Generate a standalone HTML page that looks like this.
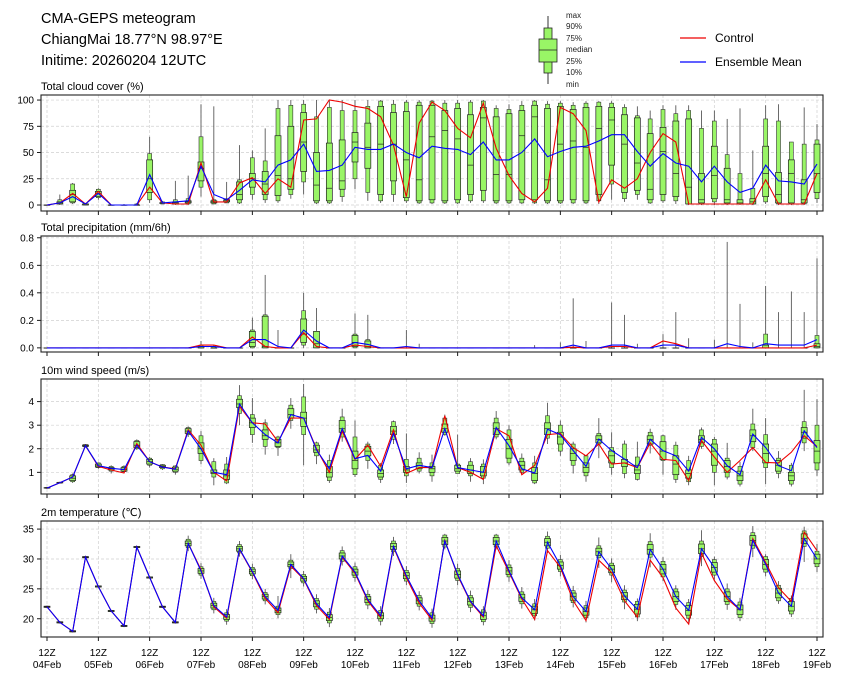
<!DOCTYPE html>
<html><head><meta charset="utf-8"><style>
html,body{margin:0;padding:0;background:#fff}
svg{display:block;font-family:"Liberation Sans","DejaVu Sans",sans-serif}
</style></head><body>
<svg id="chart" width="845" height="681" viewBox="0 0 845 681" xmlns="http://www.w3.org/2000/svg">
<g font-size="14.5" fill="#000">
<text x="41" y="23">CMA-GEPS meteogram</text>
<text x="41" y="44">ChiangMai 18.77°N 98.97°E</text>
<text x="41" y="65">Initime: 20260204 12UTC</text>
</g>
<g>
<line x1="548" y1="16" x2="548" y2="84" stroke="#333" stroke-width="1"/>
<rect x="544" y="28" width="8" height="45" fill="#99f566" stroke="#222" stroke-width="0.8"/>
<rect x="539" y="39" width="18" height="23" fill="#99f566" stroke="#222" stroke-width="0.8"/>
<line x1="539" y1="50" x2="557" y2="50" stroke="#222" stroke-width="0.8"/>
<g font-size="8" fill="#222">
<text x="566" y="18">max</text><text x="566" y="29">90%</text><text x="566" y="41">75%</text><text x="566" y="52">median</text><text x="566" y="64">25%</text><text x="566" y="75">10%</text><text x="566" y="87">min</text>
</g>
</g>
<g>
<line x1="680" y1="38" x2="706" y2="38" stroke="#e00" stroke-width="1.2"/>
<text x="715" y="42" font-size="12">Control</text>
<line x1="680" y1="62" x2="706" y2="62" stroke="#00f" stroke-width="1.2"/>
<text x="715" y="66" font-size="12">Ensemble Mean</text>
</g>
<g id="panels"></g>
</svg>
<script>
// ---- time axis ----
const dayLabels = ["04Feb","05Feb","06Feb","07Feb","08Feb","09Feb","10Feb","11Feb","12Feb","13Feb","14Feb","15Feb","16Feb","17Feb","18Feb","19Feb"];
const nSteps = 61;

// ---- cloud cover (%) ----
const cMin =[0,0,1,0,5,0,0,0,2,1, 0,0,8,1,2,1,5,2,2,6, 10,1,1,3,15,4,2,3,2,1, 1,1,1,2,2,1,1,1,1,1, 1,1,1,1,5,3,5,1,2,1, 0,0,0,0,0,0,1,0,0,0, 2];
const cP10 =[0,1,2,0,7,0,0,0,5,1, 1,1,17,1,2,2,10,5,4,10, 22,2,2,8,25,12,4,10,4,2, 2,2,2,4,4,2,2,2,2,2, 2,2,2,4,20,6,10,2,4,4, 1,1,3,1,1,1,3,1,1,1, 6];
const cP25 =[0,1,3,0,8,0,0,0,12,2, 1,2,23,2,3,5,17,10,9,15, 32,4,4,15,41,35,10,23,7,4, 5,4,5,10,14,4,4,5,5,4, 4,5,4,10,38,12,14,5,10,8, 1,2,6,2,1,1,8,2,2,2, 12];
const cMed =[0,2,10,1,11,0,0,0,25,2, 2,3,35,3,4,10,25,20,28,25, 60,19,16,23,60,55,58,58,43,24, 65,71,63,38,83,29,29,66,84,24, 58,61,55,73,81,58,40,15,51,30, 17,5,28,5,2,3,30,10,30,5, 30];
const cP75 =[0,3,14,1,13,0,0,0,43,2, 3,4,41,4,5,22,30,32,66,75, 88,50,59,62,69,78,94,88,89,95, 95,90,92,86,93,84,87,90,95,92, 94,91,93,94,93,86,83,68,74,80, 82,30,56,35,5,6,56,31,43,24, 58];
const cP90 =[0,5,20,1,15,0,0,1,49,3, 5,6,65,5,6,24,45,42,92,95, 96,84,93,90,90,94,99,96,98,98, 99,97,97,98,99,92,91,95,99,96, 97,95,97,98,97,93,85,82,91,87, 90,73,80,48,30,16,82,80,60,58, 62];
const cMax =[0,10,21,2,16,0,1,2,65,4, 23,28,96,94,22,57,52,73,100,100, 100,100,100,100,100,100,100,100,100,100, 100,100,100,100,100,95,96,99,100,99, 99,98,99,99,99,96,94,90,95,95, 95,90,90,82,92,52,95,96,60,93, 77];
const cMean=[0,2,8,1,11,0,0,0,29,2, 3,4,37,10,5,14,24,22,38,43, 58,32,33,38,55,53,53,58,50,45, 56,54,53,48,60,43,43,50,63,46, 51,55,56,61,67,67,51,37,49,40, 37,22,37,22,12,16,38,23,22,20, 39];
const cCtrl=[0,2,11,1,13,0,0,0,17,2, 1,1,40,3,3,21,26,11,25,17, 81,82,100,98,94,92,84,57,8,78, 98,90,73,64,97,54,28,11,3,16, 93,87,71,3,24,16,25,50,68,60, 1,1,1,1,1,1,24,1,1,1, 30];
const cTicks=[0,25,50,75,100];

// ---- precipitation (mm/6h) ----
const pMin =[0,0,0,0,0,0,0,0,0,0, 0,0,0,0,0,0,0,0,0,0, 0,0,0,0,0,0,0,0,0,0, 0,0,0,0,0,0,0,0,0,0, 0,0,0,0,0,0,0,0,0,0, 0,0,0,0,0,0,0,0,0,0, 0];
const pP10 =[0,0,0,0,0,0,0,0,0,0, 0,0,0,0,0,0,0,0,0,0, .02,0,0,0,0,0,0,0,0,0, 0,0,0,0,0,0,0,0,0,0, 0,0,0,0,0,0,0,0,0,0, 0,0,0,0,0,0,0,0,0,0, 0];
const pP25 =[0,0,0,0,0,0,0,0,0,0, 0,0,0,0,0,0,.01,0,0,0, .04,0,0,0,.01,0,0,0,0,0, 0,0,0,0,0,0,0,0,0,0, 0,0,0,0,0,0,0,0,0,0, 0,0,0,0,0,0,0,0,0,0, 0];
const pMed =[0,0,0,0,0,0,0,0,0,0, 0,0,0,0,0,0,.04,.01,0,0, .10,.03,0,0,.04,.01,0,0,0,0, 0,0,0,0,0,0,0,0,0,0, 0,0,0,0,0,0,0,0,0,0, 0,0,0,0,0,0,0,0,0,0, .01];
const pP75 =[0,0,0,0,0,0,0,0,0,0, 0,0,.01,0,0,0,.12,.23,0,0, .21,.12,0,0,.09,.05,0,0,0,0, 0,0,0,0,0,0,0,0,0,0, 0,0,0,0,0,0,0,0,0,0, 0,0,0,0,0,0,.02,0,0,0, .03];
const pP90 =[0,0,0,0,0,0,0,0,0,0, 0,0,.02,.01,0,0,.13,.24,0,0, .27,.12,0,0,.10,.06,0,0,0,0, 0,0,0,0,0,0,0,0,0,0, 0,0,0,0,0,0,0,0,0,0, 0,0,0,0,0,0,.10,0,0,0, .09];
const pMax =[0,0,0,0,0,0,0,0,0,0, 0,0,.05,.02,0,0,.22,.53,.13,0, .40,.29,0,0,.25,.24,0,0,.13,.03, 0,0,0,0,0,0,0,0,.02,0, .04,.36,.05,0,.33,.24,.03,0,.10,.26, .07,0,.06,.77,.32,.04,.45,.26,.41,.26, .65];
const pMean=[0,0,0,0,0,0,0,0,0,0, 0,0,.01,.01,0,0,.06,.06,.01,0, .13,.05,0,0,.04,.025,0,0,.01,0, 0,0,0,0,0,0,0,0,0,0, 0,.02,0,0,.02,.02,0,0,.02,.02, 0,0,0,.03,.01,0,.03,.02,.02,.02, .06];
const pCtrl=[0,0,0,0,0,0,0,0,0,0, 0,0,.02,.02,0,0,.08,.01,0,0, .11,.01,0,0,.02,.01,0,0,0,0, 0,0,0,0,0,0,0,0,0,0, 0,.005,0,0,.01,.01,0,0,.05,.03, 0,0,0,0,0,0,0,0,0,0, .02];
const pTicks=[0,0.2,0.4,0.6,0.8];

// ---- 10m wind (m/s) ----
const wMin =[0.3,0.52,0.55,2.05,1.15,0.95,1.0,1.95,1.2,1.1, 0.9,2.5,1.35,0.45,0.5,3.0,2.25,1.75,1.7,2.85, 1.3,1.35,0.55,2.3,0.8,1.15,0.55,2.2,0.55,0.95, 0.6,2.55,0.95,0.6,0.5,2.4,1.3,0.9,0.5,2.2, 1.7,0.95,0.6,1.6,0.9,0.75,0.65,1.8,0.9,0.55, 0.45,2.0,0.45,0.7,0.4,1.9,0.5,0.75,0.4,1.9, 0.85];
const wP10 =[0.32,0.54,0.6,2.08,1.2,1.05,1.03,2.0,1.3,1.15, 1.0,2.6,1.5,0.8,0.55,3.5,2.6,2.1,2.05,3.2, 2.6,1.7,0.65,2.5,0.9,1.5,0.7,2.4,0.85,1.05, 0.85,2.6,0.95,0.85,0.75,2.5,1.4,1.0,0.55,2.45, 1.9,1.3,0.85,2.2,1.2,0.95,0.7,2.15,1.5,0.7, 0.6,2.1,1.0,0.8,0.5,2.05,1.2,0.95,0.5,2.25, 1.1];
const wP25 =[0.33,0.55,0.65,2.1,1.22,1.1,1.05,2.05,1.35,1.2, 1.05,2.65,1.8,0.95,0.7,3.75,2.9,2.4,2.1,3.3, 2.95,1.85,0.8,2.7,1.15,1.7,0.8,2.6,1.0,1.15, 1.0,2.7,1.05,0.95,0.85,2.6,1.6,1.1,0.65,2.6, 2.2,1.5,1.0,2.25,1.4,1.25,0.95,2.2,1.55,0.9, 0.75,2.25,1.3,1.0,0.65,2.3,1.4,1.05,0.65,2.45, 1.4];
const wMed =[0.34,0.56,0.75,2.13,1.27,1.15,1.12,2.15,1.45,1.25, 1.13,2.75,2.0,1.0,0.85,3.9,3.1,2.55,2.25,3.45, 3.3,1.95,1.0,2.85,1.5,1.9,0.95,2.75,1.1,1.3, 1.15,2.85,1.15,1.1,1.0,2.85,2.0,1.3,0.95,2.85, 2.5,1.8,1.2,2.4,1.7,1.4,1.1,2.4,1.9,1.35, 0.95,2.4,1.9,1.25,0.85,2.55,1.8,1.3,0.85,2.7, 1.9];
const wP75 =[0.35,0.57,0.85,2.16,1.35,1.2,1.2,2.3,1.55,1.3, 1.22,2.85,2.25,1.1,1.1,4.1,3.3,2.8,2.4,3.7, 3.55,2.15,1.25,3.2,1.9,2.1,1.1,2.95,1.25,1.4, 1.25,3.05,1.3,1.3,1.25,3.1,2.4,1.45,1.2,3.1, 2.7,2.0,1.4,2.55,1.9,1.55,1.3,2.55,2.3,1.7, 1.1,2.55,2.2,1.5,1.05,2.8,2.2,1.5,1.0,2.9, 2.35];
const wP90 =[0.36,0.58,0.9,2.18,1.4,1.25,1.25,2.35,1.6,1.33, 1.27,2.9,2.55,1.45,1.35,4.25,3.45,3.1,2.5,3.85, 4.2,2.25,1.5,3.35,2.5,2.2,1.3,3.15,1.55,1.6, 1.4,3.3,1.35,1.45,1.35,3.3,2.8,1.6,1.4,3.4, 3.0,2.2,1.7,2.65,2.05,2.2,1.65,2.7,2.55,2.15, 1.5,2.8,2.4,1.6,1.25,3.05,2.6,1.6,1.3,3.15, 3.0];
const wMax =[0.37,0.6,0.95,2.2,1.42,1.3,1.3,2.4,1.65,1.35, 1.3,2.95,2.75,1.6,1.65,4.7,4.15,3.25,2.55,4.15, 4.75,2.3,1.75,3.7,3.2,2.3,1.4,3.2,2.65,1.85, 1.75,3.45,2.6,1.6,1.55,3.6,3.0,1.8,1.7,3.95, 3.2,2.3,1.7,3.3,2.7,2.35,2.3,2.85,2.6,2.3, 1.7,2.9,2.5,2.25,1.45,3.7,3.3,1.9,1.4,4.5, 4.1];
const wMean=[0.33,0.56,0.8,2.13,1.28,1.17,1.12,2.15,1.45,1.22, 1.13,2.75,2.0,1.0,0.9,3.9,3.1,2.6,2.25,3.45, 3.3,1.95,1.15,2.85,1.58,1.72,1.05,2.65,1.15,1.3, 1.2,2.85,1.2,1.1,1.0,2.9,2.13,1.15,0.97,2.83, 2.6,1.92,1.25,2.41,1.92,1.56,1.2,2.4,1.92,1.7, 1.05,2.48,2.0,1.28,0.9,2.62,2.05,1.28,1.07,2.76, 2.05];
const wCtrl=[0.33,0.56,0.8,2.13,1.25,1.1,0.97,2.22,1.45,1.22, 1.15,2.8,2.15,1.0,0.63,3.8,3.1,3.05,2.3,3.3, 3.3,2.0,1.0,2.75,1.55,2.15,1.25,2.8,0.95,1.2, 1.2,3.4,1.2,1.0,0.7,2.85,2.55,0.9,1.3,2.6, 2.65,2.05,1.7,2.2,1.35,1.4,1.2,2.25,1.55,1.5, 0.65,2.35,1.65,1.0,1.5,2.05,1.42,1.4,1.85,2.55, 2.1];
const wTicks=[1,2,3,4];

// ---- 2m temperature (C) ----
const tMin =[21.8,19.2,17.7,30.1,25.2,21.1,18.6,31.8,26.7,21.8, 19.2,31.3,26.7,20.9,19.0,30.4,26.6,22.4,20.1,26.8, 25.4,20.9,18.6,28.9,26.2,21.6,18.9,30.5,25.6,21.4, 18.5,31.6,25.6,21.1,18.9,31.6,26.2,21.7,19.7,31.0, 27.1,21.9,19.4,28.5,26.1,21.6,19.6,28.6,26.3,21.5, 19.3,28.8,26.3,21.5,19.6,30.3,27.1,22.5,20.3,29.5, 27.8];
const tP10 =[21.9,19.3,17.8,30.2,25.3,21.2,18.7,31.9,26.8,21.9, 19.3,31.9,27.3,21.5,19.6,31.0,27.2,23.0,20.7,28.4, 26.0,21.6,19.3,29.6,26.9,22.3,19.6,31.2,26.3,22.1, 19.2,32.0,26.4,21.9,19.5,32.0,27.0,22.5,20.5,31.8, 27.9,22.7,20.2,30.2,27.3,22.8,20.3,30.3,27.0,22.4, 20.1,30.4,27.3,22.4,20.2,31.8,27.8,23.0,20.8,32.1, 28.7];
const tP25 =[21.9,19.3,17.8,30.2,25.3,21.2,18.7,31.9,26.8,21.9, 19.3,32.2,27.6,21.8,19.9,31.3,27.5,23.3,21.0,28.7, 26.3,22.0,19.7,30.0,27.3,22.7,20.0,31.6,26.7,22.5, 19.6,32.4,26.8,22.3,19.9,32.4,27.4,22.9,20.9,32.2, 28.3,23.1,20.6,30.6,27.7,23.2,20.8,30.8,27.5,22.9, 20.6,30.9,27.8,22.9,20.7,32.3,28.3,23.5,21.3,32.6, 29.2];
const tMed =[22.0,19.4,17.9,30.3,25.4,21.3,18.8,32.0,26.9,22.0, 19.4,32.6,28.0,22.2,20.3,31.7,27.9,23.7,21.4,29.1, 26.7,22.5,20.2,30.5,27.8,23.2,20.5,32.1,27.2,23.0, 20.1,33.0,27.4,22.9,20.5,33.0,28.0,23.5,21.5,32.8, 28.9,23.7,21.2,31.2,28.3,23.8,21.6,31.6,28.3,23.7, 21.4,31.7,28.6,23.7,21.5,33.1,29.1,24.3,22.1,33.4, 30.0];
const tP75 =[22.1,19.5,18.0,30.4,25.5,21.4,18.9,32.1,27.0,22.1, 19.5,33.0,28.4,22.6,20.7,32.1,28.3,24.1,21.8,29.5, 27.1,23.0,20.7,31.0,28.3,23.7,21.0,32.6,27.7,23.5, 20.6,33.6,28.0,23.5,21.1,33.6,28.6,24.1,22.1,33.4, 29.5,24.3,21.8,31.8,28.9,24.4,22.4,32.4,29.1,24.5, 22.2,32.5,29.4,24.5,22.3,33.9,29.9,25.1,22.9,34.2, 30.8];
const tP90 =[22.1,19.5,18.0,30.4,25.5,21.4,18.9,32.1,27.0,22.1, 19.5,33.3,28.7,22.9,21.0,32.4,28.6,24.4,22.1,29.8, 27.4,23.4,21.1,31.4,28.7,24.1,21.4,33.0,28.1,23.9, 21.0,34.0,28.4,23.9,21.5,34.0,29.0,24.5,22.5,33.8, 29.9,24.7,22.2,32.2,29.3,24.8,22.9,32.9,29.6,25.0, 22.7,33.0,29.9,25.0,22.8,34.4,30.4,25.6,23.4,34.7, 31.3];
const tMax =[22.2,19.6,18.1,30.5,25.6,21.5,19.0,32.2,27.1,22.2, 19.6,33.9,29.3,23.5,21.6,33.0,29.2,25.0,23.8,30.8, 28.0,24.1,21.8,32.1,29.4,24.8,22.1,33.7,28.8,24.6, 21.7,34.2,29.2,24.7,22.1,34.2,29.8,25.3,23.3,34.6, 30.7,25.5,23.0,33.6,30.1,25.6,23.4,34.3,30.3,25.6, 23.3,34.8,30.4,25.9,23.5,35.5,30.8,26.3,23.9,35.4, 32.5];
const tMean=[22.0,19.4,17.9,30.3,25.4,21.3,18.8,32.0,26.9,22.0, 19.4,32.6,28.0,22.2,20.3,31.7,27.9,23.7,21.4,29.1, 26.7,22.5,20.2,30.5,27.8,23.2,20.5,32.1,27.2,23.0, 20.1,33.0,27.4,22.9,20.5,33.0,28.0,23.5,21.5,32.8, 28.9,23.7,21.2,31.2,28.3,23.8,21.6,31.6,28.3,23.7, 21.4,31.7,28.6,23.7,21.5,33.1,29.1,24.3,22.1,33.4, 30.0];
const tCtrl=[22.0,19.4,17.9,30.3,25.4,21.3,18.8,32.0,26.9,22.0, 19.4,32.6,28.2,22.0,20.1,31.6,27.8,23.4,21.0,28.8, 26.6,22.2,19.9,30.3,27.6,23.0,20.2,32.0,26.9,22.6, 19.8,33.1,27.2,22.8,20.3,32.2,27.8,23.3,19.9,31.4, 28.6,23.0,19.7,29.8,27.7,23.0,20.3,29.8,26.9,21.8, 19.1,31.0,26.4,23.3,21.5,33.4,29.4,25.2,22.9,34.5, 31.4];
const tTicks=[20,25,30,35];

// ---- layout ----
const X0 = 47, X1 = 817, LEFT = 41, RIGHT = 823;
function xAt(i){ return X0 + i*(X1-X0)/(nSteps-1); }
const NS = "http://www.w3.org/2000/svg";
const root = document.getElementById('panels');
function mk(tag, attrs, parent){
  const e = document.createElementNS(NS, tag);
  for (const k in attrs) e.setAttribute(k, attrs[k]);
  (parent||root).appendChild(e);
  return e;
}

const panels = [
  {key:'cloud', title:'Total cloud cover (%)', top:95, bot:211, ymin:-5.7, ymax:104.8, ticks:cTicks, fmt:v=>String(v),
   mn:cMin,p10:cP10,p25:cP25,md:cMed,p75:cP75,p90:cP90,mx:cMax,mean:cMean,ctrl:cCtrl},
  {key:'precip', title:'Total precipitation (mm/6h)', top:236, bot:352, ymin:-0.03, ymax:0.813, ticks:pTicks, fmt:v=>v.toFixed(1),
   mn:pMin,p10:pP10,p25:pP25,md:pMed,p75:pP75,p90:pP90,mx:pMax,mean:pMean,ctrl:pCtrl},
  {key:'wind', title:'10m wind speed (m/s)', top:379, bot:494, ymin:0.08, ymax:4.96, ticks:wTicks, fmt:v=>String(v),
   mn:wMin,p10:wP10,p25:wP25,md:wMed,p75:wP75,p90:wP90,mx:wMax,mean:wMean,ctrl:wCtrl},
  {key:'temp', title:'2m temperature (\u2103)', top:521, bot:637, ymin:16.95, ymax:36.35, ticks:tTicks, fmt:v=>String(v),
   mn:tMin,p10:tP10,p25:tP25,md:tMed,p75:tP75,p90:tP90,mx:tMax,mean:tMean,ctrl:tCtrl}
];

panels.forEach((P, pi) => {
  const g = mk('g', {});
  
  
  const y = v => P.bot - (v - P.ymin)/(P.ymax - P.ymin)*(P.bot - P.top);

  const t = mk('text', {x:LEFT, y:P.top-5, 'font-size':'11', fill:'#000'}, g);
  t.textContent = P.title;
  
  

  // grid
  for (let d = 0; d < dayLabels.length; d++) {
    const gx = xAt(d*4);
    const gl = mk('line', {x1:gx, x2:gx, y1:P.top, y2:P.bot, stroke:'#d0d0d0', 'stroke-width':'0.7', 'stroke-dasharray':'3,2'}, g);
    
    
    mk('line', {x1:gx, x2:gx, y1:P.bot, y2:P.bot+4, stroke:'#000', 'stroke-width':'0.9'}, g);
  }
  P.ticks.forEach(v => {
    const ty = y(v);
    const gl = mk('line', {x1:LEFT, x2:RIGHT, y1:ty, y2:ty, stroke:'#d0d0d0', 'stroke-width':'0.7', 'stroke-dasharray':'3,2'}, g);
    
    
    mk('line', {x1:LEFT-4, x2:LEFT, y1:ty, y2:ty, stroke:'#000', 'stroke-width':'0.9'}, g);
    const lab = mk('text', {x:LEFT-7, y:ty+3.5, 'font-size':'10', 'text-anchor':'end', fill:'#000'}, g);
    lab.textContent = P.fmt(v);
    
    
  });

  // boxes
  for (let i = 0; i < nSteps; i++) {
    const cx = xAt(i);
    const bg = mk('g', {}, g);
    
    
    mk('line', {x1:cx, x2:cx, y1:y(P.mn[i]), y2:y(P.mx[i]), stroke:'#444', 'stroke-width':'0.8'}, bg);
    const a = y(P.p90[i]), b = y(P.p10[i]);
    mk('rect', {x:cx-2, y:a, width:4, height:Math.max(0.3, b-a), fill:'#99f566', stroke:'#333', 'stroke-width':'0.6'}, bg);
    const c = y(P.p75[i]), d = y(P.p25[i]);
    mk('rect', {x:cx-3, y:c, width:6, height:Math.max(0.3, d-c), fill:'#99f566', stroke:'#222', 'stroke-width':'0.7'}, bg);
    mk('line', {x1:cx-3, x2:cx+3, y1:y(P.md[i]), y2:y(P.md[i]), stroke:'#222', 'stroke-width':'0.7'}, bg);
  }

  // lines
  const ptsC = P.ctrl.map((v,i) => xAt(i).toFixed(1)+','+y(v).toFixed(1)).join(' ');
  const lc = mk('polyline', {points:ptsC, fill:'none', stroke:'#e00', 'stroke-width':'1.1'}, g);
  
  
  const ptsM = P.mean.map((v,i) => xAt(i).toFixed(1)+','+y(v).toFixed(1)).join(' ');
  const lm = mk('polyline', {points:ptsM, fill:'none', stroke:'#00f', 'stroke-width':'1.1'}, g);
  
  

  // frame
  const fr = mk('rect', {x:LEFT, y:P.top, width:RIGHT-LEFT, height:P.bot-P.top, fill:'none', stroke:'#222', 'stroke-width':'1.1'}, g);
  
  

  // x labels only on last panel
  if (pi === panels.length-1) {
    dayLabels.forEach((dl, d) => {
      const gx = xAt(d*4);
      const l1 = mk('text', {x:gx, y:P.bot+19, 'font-size':'10', 'text-anchor':'middle', fill:'#000'}, g);
      l1.textContent = '12Z';
      
      
      const l2 = mk('text', {x:gx, y:P.bot+31, 'font-size':'10', 'text-anchor':'middle', fill:'#000'}, g);
      l2.textContent = dl;
      
      
    });
  }
});
</script>
</body></html>
